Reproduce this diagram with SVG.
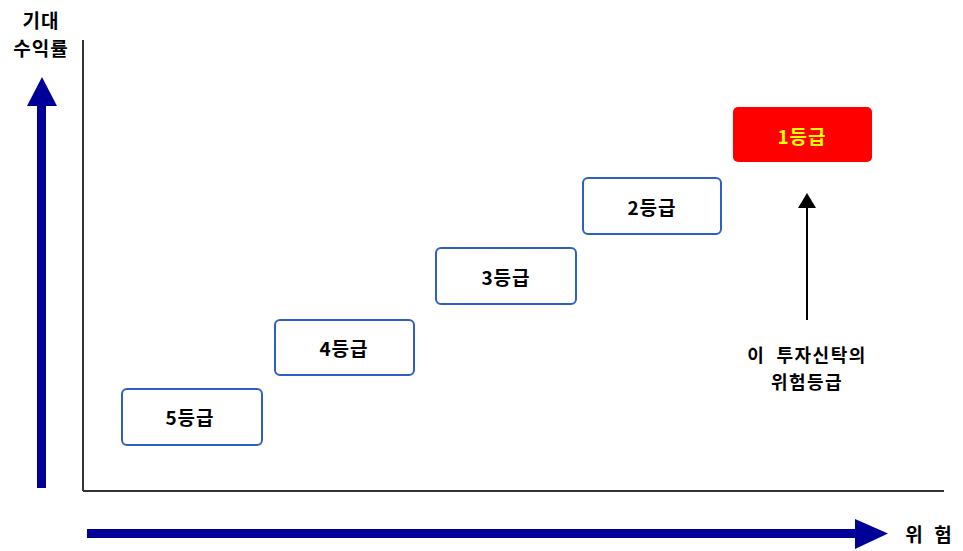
<svg xmlns="http://www.w3.org/2000/svg" width="963" height="551" viewBox="0 0 963 551">
<style>
text{font-family:"Noto Sans CJK KR","Liberation Sans",sans-serif;font-weight:bold;font-size:19px;letter-spacing:1px;fill:#000}
.box{fill:#fff;stroke:#2f5fc4;stroke-width:2}
.lbl{text-anchor:middle;dominant-baseline:central}
.note{font-size:18px;letter-spacing:1.5px}
</style>
<rect width="963" height="551" fill="#fff"/>
<g id="axes">
<line x1="83" y1="40" x2="83" y2="491" stroke="#333" stroke-width="2"/>
<line x1="83" y1="491" x2="944" y2="491" stroke="#333" stroke-width="2"/>
</g>
<g id="y-arrow">
<rect x="37" y="104" width="9" height="384" fill="#000099"/>
<polygon points="42,77 27,106 57,106" fill="#000099"/>
<text x="41" y="19" class="lbl">기대</text>
<text x="41" y="47" class="lbl">수익률</text>
</g>
<g id="x-arrow">
<rect x="87" y="529" width="770" height="9" fill="#000099"/>
<polygon points="855,519 888,533.5 855,549" fill="#000099"/>
<text x="929" y="533" class="lbl" xml:space="preserve">위  험</text>
</g>
<g id="g5"><rect class="box" x="122" y="389" width="140" height="56" rx="5"/><text class="lbl" x="190" y="416">5등급</text></g>
<g id="g4"><rect class="box" x="275" y="320" width="139" height="55" rx="5"/><text class="lbl" x="344" y="347">4등급</text></g>
<g id="g3"><rect class="box" x="436" y="248" width="140" height="56" rx="5"/><text class="lbl" x="506" y="276">3등급</text></g>
<g id="g2"><rect class="box" x="583" y="178" width="138" height="56" rx="5"/><text class="lbl" x="652" y="206">2등급</text></g>
<g id="g1"><rect x="733" y="107" width="139" height="55" rx="5" fill="#ff0000"/><text class="lbl" x="802" y="135" style="fill:#ffff00">1등급</text></g>
<g id="connectors">
<line x1="807" y1="320" x2="807" y2="206" stroke="#000" stroke-width="2"/>
<polygon points="807,193 798,208 816,208" fill="#000"/>
</g>
<g id="note">
<text class="lbl note" x="807" y="354" xml:space="preserve">이  투자신탁의</text>
<text class="lbl note" x="807" y="381">위험등급</text>
</g>
</svg>
